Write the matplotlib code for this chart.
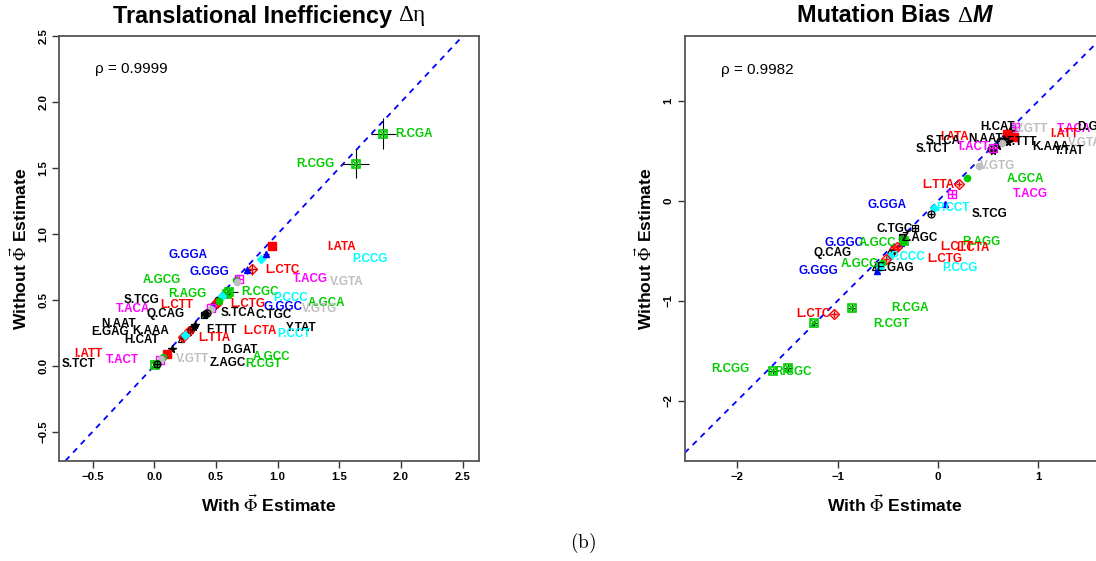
import matplotlib
matplotlib.use("Agg")
import matplotlib.pyplot as plt

W, H, DPI = 1096, 561, 100
plt.rcParams['font.family'] = ['Liberation Sans', 'DejaVu Sans']

# ---------------- data : left panel (translational inefficiency) ----------------
eta_codons = ["R.CGA", "R.CGG", "I.ATA", "P.CCG", "G.GGA", "L.CTC", "G.GGG", "A.GCG",
              "T.ACG", "V.GTA", "R.AGG", "R.CGC", "S.TCG", "P.CCC", "L.CTT", "L.CTG",
              "G.GGC", "A.GCA", "T.ACA", "V.GTG", "Q.CAG", "S.TCA", "C.TGC", "N.AAT",
              "E.GAG", "K.AAA", "F.TTT", "L.CTA", "Y.TAT", "H.CAT", "L.TTA", "P.CCT",
              "D.GAT", "I.ATT", "A.GCC", "T.ACT", "V.GTT", "Z.AGC", "R.CGT", "S.TCT"]
eta_with = [1.857, 1.632, 0.957, 0.865, 0.906, 0.790, 0.755, 0.665,
            0.687, 0.673, 0.590, 0.610, 0.520, 0.547, 0.490, 0.505,
            0.475, 0.525, 0.457, 0.460, 0.410, 0.425, 0.400, 0.330,
            0.270, 0.295, 0.310, 0.285, 0.320, 0.220, 0.235, 0.250,
            0.141, 0.100, 0.070, 0.045, 0.055, 0.015, 0.005, 0.020]
eta_without = [1.761, 1.531, 0.905, 0.807, 0.845, 0.732, 0.725, 0.648,
               0.662, 0.632, 0.545, 0.562, 0.500, 0.530, 0.465, 0.475,
               0.452, 0.495, 0.435, 0.430, 0.390, 0.400, 0.385, 0.310,
               0.260, 0.275, 0.285, 0.265, 0.295, 0.205, 0.215, 0.235,
               0.128, 0.092, 0.065, 0.042, 0.050, 0.015, 0.005, 0.010]
eta_err_x = [0.10, 0.11, 0.02, 0.02, 0.025, 0.04, 0.03, 0.02,
             0.03, 0.02, 0.03, 0.07, 0.02, 0.02, 0.02, 0.02,
             0.02, 0.02, 0.02, 0.02, 0.03, 0.02, 0.02, 0.02,
             0.02, 0.02, 0.02, 0.02, 0.02, 0.02, 0.02, 0.02,
             0.015, 0.015, 0.015, 0.015, 0.015, 0.015, 0.015, 0.015]
eta_err_y = [0.12, 0.11, 0.02, 0.02, 0.025, 0.04, 0.03, 0.02,
             0.03, 0.02, 0.03, 0.03, 0.02, 0.02, 0.02, 0.02,
             0.02, 0.02, 0.02, 0.02, 0.03, 0.02, 0.02, 0.02,
             0.02, 0.02, 0.02, 0.02, 0.02, 0.02, 0.02, 0.02,
             0.015, 0.015, 0.015, 0.015, 0.015, 0.015, 0.015, 0.015]
eta_label_x = [2.108, 1.310, 1.516, 1.749, 0.273, 1.035, 0.446, 0.062,
               1.262, 1.559, 0.265, 0.859, -0.103, 1.105, 0.184, 0.754,
               1.041, 1.397, -0.170, 1.338, 0.095, 0.681, 0.970, -0.286,
               -0.359, -0.027, 0.549, 0.857, 1.195, -0.105, 0.486, 1.130,
               0.697, -0.535, 0.954, -0.262, 0.311, 0.592, 0.884, -0.614]
eta_label_y = [1.761, 1.531, 0.901, 0.810, 0.841, 0.726, 0.711, 0.650,
               0.658, 0.637, 0.546, 0.559, 0.499, 0.515, 0.462, 0.470,
               0.449, 0.475, 0.431, 0.428, 0.389, 0.402, 0.384, 0.319,
               0.259, 0.266, 0.272, 0.264, 0.285, 0.199, 0.212, 0.238,
               0.120, 0.089, 0.063, 0.044, 0.052, 0.021, 0.010, 0.010]
eta_rho = "ρ = 0.9999"
eta_xticks = [-0.5, 0.0, 0.5, 1.0, 1.5, 2.0, 2.5]
eta_xticklabels = ["\u22120.5", "0.0", "0.5", "1.0", "1.5", "2.0", "2.5"]
eta_yticks = [-0.5, 0.0, 0.5, 1.0, 1.5, 2.0, 2.5]
eta_yticklabels = ["\u22120.5", "0.0", "0.5", "1.0", "1.5", "2.0", "2.5"]

# ---------------- data : right panel (mutation bias) ----------------
mut_codons = ["H.CAT", "V.GTT", "T.ACA", "D.GAT", "I.ATT", "I.ATA", "S.TCA", "N.AAT",
              "F.TTT", "K.AAA", "V.GTA", "Y.TAT", "S.TCT", "T.ACT", "V.GTG", "A.GCA",
              "L.TTA", "T.ACG", "G.GGA", "P.CCT", "S.TCG", "C.TGC", "Z.AGC", "G.GGC",
              "A.GCC", "R.AGG", "L.CTT", "L.CTA", "Q.CAG", "P.CCC", "L.CTG", "A.GCG",
              "E.GAG", "G.GGG", "P.CCG", "R.CGA", "L.CTC", "R.CGT", "R.CGG", "R.CGC"]
mut_with = [0.730, 0.745, 0.767, 0.720, 0.692, 0.756, 0.620, 0.660,
            0.700, 0.600, 0.640, 0.550, 0.530, 0.551, 0.406, 0.286,
            0.205, 0.145, 0.074, -0.042, -0.071, -0.226, -0.360, -0.370,
            -0.350, -0.340, -0.410, -0.440, -0.470, -0.480, -0.520, -0.560,
            -0.630, -0.610, -0.580, -0.855, -1.038, -1.232, -1.642, -1.490]
mut_without = [0.730, 0.715, 0.736, 0.700, 0.672, 0.641, 0.600, 0.620,
               0.590, 0.550, 0.580, 0.500, 0.515, 0.534, 0.352, 0.224,
               0.165, 0.069, -0.035, -0.070, -0.131, -0.273, -0.360, -0.420,
               -0.410, -0.400, -0.460, -0.480, -0.520, -0.550, -0.580, -0.620,
               -0.660, -0.700, -0.660, -1.070, -1.131, -1.224, -1.707, -1.672]
mut_err_x = [0.02] * 35 + [0.04, 0.03, 0.03, 0.05, 0.04]
mut_err_y = [0.02] * 35 + [0.04, 0.03, 0.03, 0.03, 0.04]
mut_label_x = [0.593, 0.929, 1.352, 1.560, 1.257, 0.169, 0.056, 0.477,
               0.830, 1.123, 1.460, 1.310, -0.056, 0.353, 0.593, 0.869,
               0.000, 0.922, -0.512, 0.152, 0.512, -0.431, -0.177, -0.936,
               -0.600, 0.434, 0.187, 0.347, -1.049, -0.307, 0.064, -0.777,
               -0.431, -1.190, 0.215, -0.279, -1.243, -0.459, -2.066, -1.448]
mut_label_y = [0.738, 0.720, 0.720, 0.740, 0.672, 0.637, 0.596, 0.620,
               0.589, 0.541, 0.580, 0.500, 0.520, 0.541, 0.351, 0.220,
               0.158, 0.069, -0.041, -0.076, -0.131, -0.279, -0.372, -0.424,
               -0.424, -0.410, -0.459, -0.476, -0.524, -0.562, -0.579, -0.635,
               -0.672, -0.703, -0.672, -1.069, -1.131, -1.231, -1.683, -1.714]
mut_rho = "ρ = 0.9982"
mut_xticks = [-2, -1, 0, 1]
mut_xticklabels = ["\u22122", "\u22121", "0", "1"]
mut_yticks = [-2, -1, 0, 1]
mut_yticklabels = ["\u22122", "\u22121", "0", "1"]

# ---------------- styles ----------------
AA_COLOR = {'I': '#FF0000', 'L': '#FF0000', 'R': '#00CD00', 'A': '#00CD00',
            'G': '#0000FF', 'P': '#00FFFF', 'T': '#FF00FF', 'V': '#BEBEBE'}


def aa_color(c):
    return AA_COLOR.get(c[0], '#000000')


def draw_point(ax, x, y, aa, col):
    z = 3
    if aa == 'I':
        ax.plot(x, y, 's', ms=5.5, color=col, zorder=z)
    elif aa == 'L':
        ax.plot(x, y, 'D', ms=5, mfc='none', mec=col, mew=1, zorder=z)
        ax.plot(x, y, '+', ms=5, color=col, mew=1, zorder=z)
    elif aa == 'R':
        ax.plot(x, y, 's', ms=5.5, mfc='none', mec=col, mew=1.2, zorder=z)
        ax.plot(x, y, 'x', ms=5, color=col, mew=1.2, zorder=z)
    elif aa == 'A':
        ax.plot(x, y, 'o', ms=4.5, color=col, zorder=z)
    elif aa == 'G':
        ax.plot(x, y, '^', ms=5, color=col, zorder=z)
    elif aa == 'P':
        ax.plot(x, y, 'D', ms=4, color=col, zorder=z)
    elif aa == 'T':
        ax.plot(x, y, 's', ms=5.5, mfc='none', mec=col, mew=1, zorder=z)
        ax.plot(x, y, '+', ms=5.5, color=col, mew=1, zorder=z)
    elif aa == 'V':
        ax.plot(x, y, 'o', ms=4.5, color=col, zorder=z)
    elif aa in ('S', 'Q'):
        ax.plot(x, y, 'o', ms=5, mfc='none', mec=col, mew=0.9, zorder=z)
        ax.plot(x, y, '+', ms=5, color=col, mew=0.9, zorder=z)
    elif aa == 'C':
        ax.plot(x, y, 's', ms=5, mfc='none', mec=col, mew=0.9, zorder=z)
        ax.plot(x, y, '+', ms=5, color=col, mew=0.9, zorder=z)
    elif aa in ('E', 'H'):
        ax.plot(x, y, '^', ms=5, mfc='none', mec=col, mew=0.9, zorder=z)
    elif aa == 'Z':
        ax.plot(x, y, 's', ms=5, mfc='none', mec=col, mew=0.9, zorder=z)
        ax.plot(x, y, 'x', ms=4.5, color=col, mew=0.9, zorder=z)
    else:
        ax.plot(x, y, '*', ms=5.5, color=col, zorder=z)


def panel(ax, codons, px, py, ex, ey, lx, ly, rho, rho_xy, xt, xtl, yt, ytl, xlim, ylim):
    ax.set_xlim(*xlim)
    ax.set_ylim(*ylim)
    ax.axline((0, 0), (1, 1), color='#0000FF', lw=1.3, ls=(0, (3.2, 3.0)), zorder=2)
    ax.errorbar(px, py, xerr=ex, yerr=ey, fmt='none', ecolor='black',
                elinewidth=0.8, capsize=0, zorder=2.5)
    for c, x, y in zip(codons, px, py):
        draw_point(ax, x, y, c[0], aa_color(c))
    for c, x, y in zip(codons, lx, ly):
        ax.text(x, y, c, color=aa_color(c), fontsize=8.4, fontweight='bold',
                ha='center', va='center', zorder=4)
    ax.text(rho_xy[0], rho_xy[1], rho, fontsize=11, ha='left', va='center')
    ax.set_xticks(xt)
    ax.set_xticklabels(xtl, fontweight='bold', fontsize=8.2)
    ax.set_yticks(yt)
    ax.set_yticklabels(ytl, fontweight='bold', fontsize=8.2, rotation=90, va='center')
    ax.tick_params(direction='out', length=5, width=1, pad=3, color='#333333')
    for s in ax.spines.values():
        s.set_color('#555555')
        s.set_linewidth(1.3)


fig = plt.figure(figsize=(W / DPI, H / DPI), dpi=DPI)
axL = fig.add_axes([59.3 / W, 1 - 460.7 / H, 419.7 / W, 424.5 / H])
axR = fig.add_axes([684.7 / W, 1 - 460.7 / H, 419.7 / W, 424.5 / H])

panel(axL, eta_codons, eta_with, eta_without, eta_err_x, eta_err_y, eta_label_x, eta_label_y,
      eta_rho, (-0.478, 2.252), eta_xticks, eta_xticklabels, eta_yticks, eta_yticklabels,
      (-0.77, 2.633), (-0.72, 2.50))
panel(axR, mut_codons, mut_with, mut_without, mut_err_x, mut_err_y, mut_label_x, mut_label_y,
      mut_rho, (-2.163, 1.309), mut_xticks, mut_xticklabels, mut_yticks, mut_yticklabels,
      (-2.522, 1.658), (-2.60, 1.648))

# axis labels
for ax, ylx in ((axL, 19), (axR, 644.6)):
    b = ax.get_position()
    cx = (b.x0 + b.x1) / 2
    cy = (b.y0 + b.y1) / 2
    fig.text(cx, 1 - 504 / H, r'With $\vec{\Phi}$ Estimate', fontsize=12.6, fontweight='bold',
             ha='center', va='center', math_fontfamily='stix')
    fig.text(ylx / W, cy, r'Without $\vec{\Phi}$ Estimate', fontsize=12.6, fontweight='bold',
             ha='center', va='center', rotation=90, math_fontfamily='stix')

# titles built from pieces with different styles
renderer = fig.canvas.get_renderer()


def multi_title(ax, parts, y_px):
    texts = [fig.text(0, 1 - y_px / H, s, ha='left', va='center', **kw) for s, kw in parts]
    widths = [t.get_window_extent(renderer).width for t in texts]
    b = ax.get_position()
    x = (b.x0 + b.x1) / 2 * W - sum(widths) / 2
    for t, w in zip(texts, widths):
        t.set_x(x / W)
        x += w


multi_title(axL, [("Translational Inefficiency ", dict(fontsize=16.8, fontweight='bold')),
                  ("Δη", dict(fontsize=16.8, family='Liberation Serif'))], 16)
multi_title(axR, [("Mutation Bias ", dict(fontsize=16.8, fontweight='bold')),
                  ("Δ", dict(fontsize=16.8, family='Liberation Serif')),
                  ("M", dict(fontsize=16.8, fontweight='bold', style='italic'))], 16)

fig.text(583 / W, 1 - 543 / H, r'$\mathrm{(b)}$', fontsize=14, ha='center', va='center',
         math_fontfamily='cm')

fig.savefig('out.png', dpi=DPI)
